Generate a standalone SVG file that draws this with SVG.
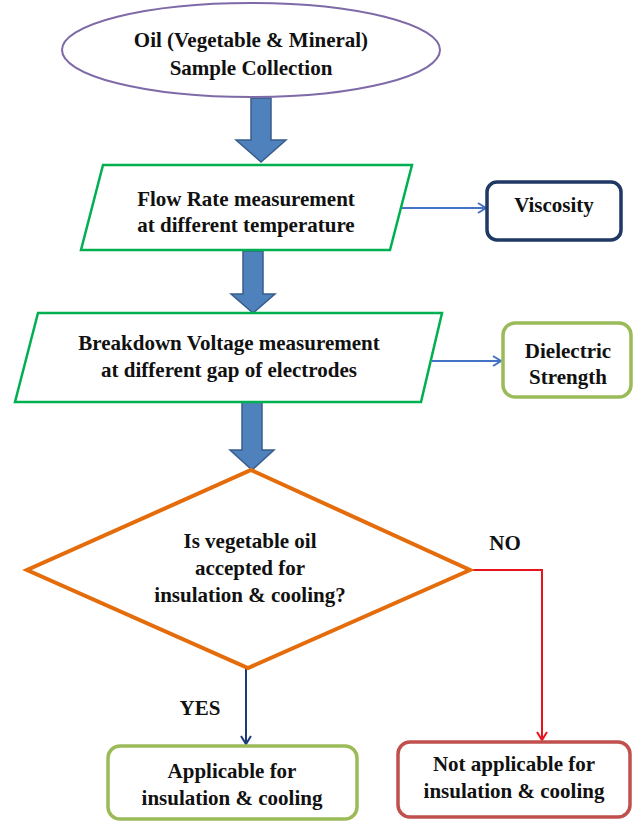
<svg xmlns="http://www.w3.org/2000/svg" width="634" height="822" viewBox="0 0 634 822">
<style>
text{font-weight:bold;font-size:21px;fill:#111;text-anchor:middle}
.blk{fill:#4F81BD;stroke:#385D8A;stroke-width:1.5}
.para{fill:#fff;stroke:#00B050;stroke-width:2.5}
.ln{fill:none;stroke-width:2}
</style>
<defs>
<marker id="mb" markerWidth="12" markerHeight="12" refX="10" refY="6" orient="auto" markerUnits="userSpaceOnUse"><path d="M2,1 L10,6 L2,11" fill="none" stroke="#4472C4" stroke-width="2"/></marker>
<marker id="mn" markerWidth="12" markerHeight="12" refX="10" refY="6" orient="auto" markerUnits="userSpaceOnUse"><path d="M2,1 L10,6 L2,11" fill="none" stroke="#1F3A78" stroke-width="2"/></marker>
<marker id="mr" markerWidth="12" markerHeight="12" refX="10" refY="6" orient="auto" markerUnits="userSpaceOnUse"><path d="M2,1 L10,6 L2,11" fill="none" stroke="#E8141C" stroke-width="2"/></marker>
</defs>
<rect width="634" height="822" fill="#fff"/>
<g font-family="Liberation Serif, Times New Roman, Tinos, DejaVu Serif, serif">
<g id="connectors">
<polygon class="blk" points="251,98 271,98 271,140 286,140 261,162 236,140 251,140"/>
<polygon class="blk" points="243,251 263,251 263,294 275,294 253,313 231,294 243,294"/>
<polygon class="blk" points="242,402 262,402 262,450 274,450 252,470 230,450 242,450"/>
<line class="ln" x1="395" y1="208" x2="486" y2="208" stroke="#4472C4" marker-end="url(#mb)"/>
<line class="ln" x1="432" y1="361" x2="501" y2="361" stroke="#4472C4" marker-end="url(#mb)"/>
<polyline class="ln" points="470,570 542,570 542,740" stroke="#E8141C" marker-end="url(#mr)"/>
<line class="ln" x1="246" y1="668" x2="246" y2="744" stroke="#1F3A78" marker-end="url(#mn)"/>
<text x="505" y="550">NO</text>
<text x="200" y="715">YES</text>
</g>
<g id="start">
<ellipse cx="251" cy="50" rx="189" ry="47" fill="#fff" stroke="#7F6AA8" stroke-width="2"/>
<text x="251" y="47">Oil (Vegetable &amp; Mineral)</text>
<text x="251" y="75">Sample Collection</text>
</g>
<g id="flow">
<polygon class="para" points="103,165 412,165 390,250 81,250"/>
<text x="246" y="206">Flow Rate measurement</text>
<text x="246" y="232">at different temperature</text>
</g>
<g id="viscosity">
<rect x="487" y="182" width="134" height="58" rx="10" fill="#fff" stroke="#1F3864" stroke-width="3.5"/>
<text x="554" y="212">Viscosity</text>
</g>
<g id="breakdown">
<polygon class="para" points="38,313 442,313 421,402 15,402"/>
<text x="229" y="350">Breakdown Voltage measurement</text>
<text x="229" y="377">at different gap of electrodes</text>
</g>
<g id="dielectric">
<rect x="503" y="323" width="128" height="74" rx="12" fill="#fff" stroke="#9BBB59" stroke-width="3.5"/>
<text x="568" y="358">Dielectric</text>
<text x="568" y="384">Strength</text>
</g>
<g id="decision">
<polygon points="251,470 470,570 248,668 27,570" fill="#fff" stroke="#E46C0A" stroke-width="4" stroke-linejoin="miter"/>
<text x="250" y="548">Is vegetable oil</text>
<text x="250" y="575">accepted for</text>
<text x="250" y="602">insulation &amp; cooling?</text>
</g>
<g id="applicable">
<rect x="108" y="746" width="249" height="73" rx="12" fill="#fff" stroke="#9BBB59" stroke-width="3.5"/>
<text x="232" y="778">Applicable for</text>
<text x="232" y="805">insulation &amp; cooling</text>
</g>
<g id="notapplicable">
<rect x="398" y="742" width="232" height="75" rx="12" fill="#fff" stroke="#C0504D" stroke-width="3.5"/>
<text x="514" y="771">Not applicable for</text>
<text x="514" y="798">insulation &amp; cooling</text>
</g>
</g>
</svg>
